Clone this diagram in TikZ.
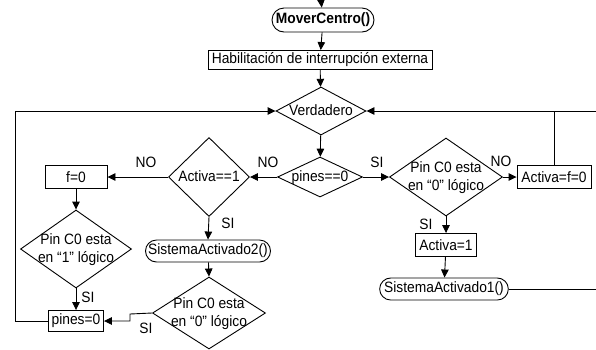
\documentclass[tikz,border=0pt]{standalone}
\usepackage{fontspec}
\setmainfont{Liberation Sans}[FakeStretch=0.92]
\usetikzlibrary{arrows.meta,shapes.geometric,shapes.misc}
% centred text of zero size, so a diamond keeps the size it is given
\newcommand{\dz}[1]{\raisebox{-0.3em}[0pt][0pt]{\makebox[0pt]{\def\arraystretch{1.05}\begin{tabular}{@{}c@{}}#1\end{tabular}}}}
\tikzset{
  every node/.style={font=\fontsize{15}{16.5}\selectfont},
  flow/.style={line width=0.9pt},
  arr/.style={flow,-{Triangle[length=8pt,width=7.5pt]}},
  boxnode/.style={draw,flow,rectangle,inner sep=1.5pt},
  callnode/.style={draw,flow,rounded rectangle,inner xsep=2pt,inner ysep=1pt},
  dia/.style={draw,flow,diamond,inner sep=0pt},
  lbl/.style={inner sep=0pt}
}
\begin{document}
\begin{tikzpicture}[x=1pt,y=-1pt]
\useasboundingbox (0,0) rectangle (596,349);
\clip (0,0) rectangle (596,349);

% nodes
\node[callnode,minimum width=106,minimum height=24] (mc) at (323,20) {\textbf{MoverCentro()}};
\node[boxnode,minimum width=224,minimum height=19] (hab) at (320,60) {Habilitación de interrupción externa};
\node[dia,minimum width=90,minimum height=48] (ver) at (321,111) {\dz{Verdadero}};
\node[dia,minimum width=85,minimum height=40] (pin) at (320,177) {\dz{pines==0}};
\node[dia,minimum width=81,minimum height=79] (act) at (209,177) {\dz{Activa==1}};
\node[boxnode,minimum width=62,minimum height=23] (f0) at (76,177) {f=0};
\node[dia,minimum width=111,minimum height=78] (d1) at (76,249) {\dz{Pin C0 esta\\en “1” lógico}};
\node[boxnode,minimum width=55,minimum height=21] (p0) at (76,321) {pines=0};
\node[callnode,minimum width=129,minimum height=22] (sa2) at (208,251) {SistemaActivado2()};
\node[dia,minimum width=113,minimum height=72] (d0l) at (209,313) {\dz{Pin C0 esta\\en “0” lógico}};
\node[dia,minimum width=113,minimum height=78] (d0r) at (446,177) {\dz{Pin C0 esta\\en “0” lógico}};
\node[boxnode,minimum width=74,minimum height=23] (afz) at (554,177) {Activa=f=0};
\node[boxnode,minimum width=61,minimum height=23] (a1) at (446,245) {Activa=1};
\node[callnode,minimum width=125,minimum height=22] (sa1) at (444,289) {SistemaActivado1()};

% free ends
\coordinate (top) at (321,0);
\coordinate (lx) at (15,111);
\coordinate (rx) at (600,111);
\coordinate (bend) at (130,314);

% connectors
\draw[arr] (top) -- (mc);
\draw[arr] (mc) -- (hab);
\draw[arr] (hab) -- (ver);
\draw[arr] (ver) -- (pin);
\draw[arr] (pin.west) -- (act.east);
\draw[arr] (act.west) -- (f0.east);
\draw[arr] (act.south) -- (sa2.north);
\draw[arr] (sa2) -- (d0l.north);
\draw[arr] (d0l.west) -- (bend) |- (p0.east);
\draw[arr] (f0) -- (d1.north);
\draw[arr] (d1.south) -- (p0.north);
\draw[arr] (p0.west) -| (lx) -- (ver.west);
\draw[arr] (pin.east) -- (d0r.west);
\draw[arr] (d0r.east) -- (afz.west);
\draw[flow] (afz.north) -- (afz.north |- rx);
\draw[arr] (d0r.south) -- (a1.north);
\draw[arr] (a1) -- (sa1);
\draw[arr] (sa1.east) -- (sa1.east -| rx) -- (rx) -- (ver.east);

% branch labels
\node[lbl] (l1) at (268,162) {NO};
\node[lbl] (l2) at (146,162) {NO};
\node[lbl] (l3) at (228,223) {SI};
\node[lbl] (l4) at (146,328) {SI};
\node[lbl] (l5) at (88,297) {SI};
\node[lbl] (l6) at (377,162) {SI};
\node[lbl] (l7) at (501,161) {NO};
\node[lbl] (l8) at (426,224) {SI};
\end{tikzpicture}
\end{document}
